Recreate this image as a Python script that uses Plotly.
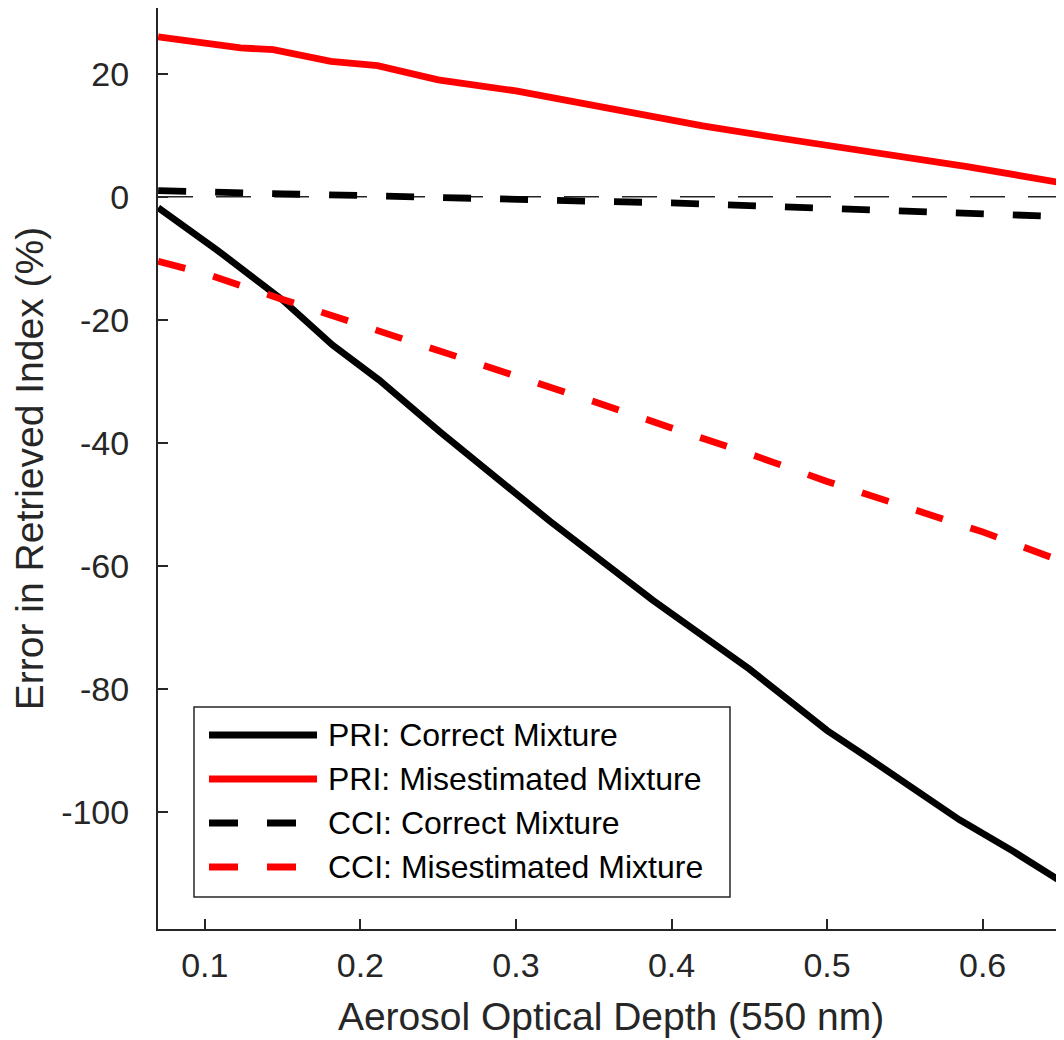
import plotly.graph_objects as go

# ---------------- data ----------------
series_names = [
    "PRI: Correct Mixture",
    "PRI: Misestimated Mixture",
    "CCI: Correct Mixture",
    "CCI: Misestimated Mixture",
]

aod_pri_correct = [0.070, 0.108, 0.150, 0.182, 0.212, 0.251, 0.322, 0.388,
                   0.450, 0.500, 0.525, 0.550, 0.585, 0.620, 0.652]
pri_correct = [-1.8, -8.7, -16.8, -24.1, -29.8, -38.2, -52.8, -65.6,
               -76.8, -86.8, -91.0, -95.2, -101.3, -106.5, -111.6]

aod_pri_mis = [0.070, 0.123, 0.144, 0.181, 0.211, 0.250, 0.300, 0.350,
               0.380, 0.420, 0.470, 0.530, 0.590, 0.652]
pri_mis = [26.0, 24.2, 23.9, 22.0, 21.3, 19.0, 17.2, 14.8,
           13.2, 11.5, 9.5, 7.2, 4.9, 2.2]

aod_cci = [0.07, 0.10, 0.15, 0.20, 0.25, 0.30, 0.35, 0.40,
           0.45, 0.50, 0.55, 0.60, 0.652]
cci_correct = [1.0, 0.75, 0.45, 0.2, -0.2, -0.5, -0.75, -1.0,
               -1.45, -1.85, -2.25, -2.7, -3.25]
cci_mis = [-10.5, -12.5, -16.7, -20.8, -24.9, -29.0, -33.3, -37.6,
           -41.8, -46.3, -50.3, -54.5, -59.4]

x_tick_vals = [0.1, 0.2, 0.3, 0.4, 0.5, 0.6]
x_tick_text = ["0.1", "0.2", "0.3", "0.4", "0.5", "0.6"]
y_tick_vals = [-100, -80, -60, -40, -20, 0, 20]
y_tick_text = ["-100", "-80", "-60", "-40", "-20", "0", "20"]

x_title = "Aerosol Optical Depth (550 nm)"
y_title = "Error in Retrieved Index (%)"

# ---------------- style ----------------
OFF = 8  # page body margin offset
W, H = 1064 - OFF, 1040 - OFF
ML, MR, MT, MB = 150, 0, 0, 111
AX = "#262626"
FONT = "Liberation Sans, Arial, sans-serif"
RED = "#ff0000"
BLACK = "#000000"
LW = 6.8
DASH = "28px,29px"

styles = [
    dict(color=BLACK, width=LW, dash="solid"),
    dict(color=RED, width=LW, dash="solid"),
    dict(color=BLACK, width=LW, dash=DASH),
    dict(color=RED, width=LW, dash=DASH),
]

xs = [aod_pri_correct, aod_pri_mis, aod_cci, aod_cci]
ys = [pri_correct, pri_mis, cci_correct, cci_mis]

fig = go.Figure()
for name, x, y, st in zip(series_names, xs, ys, styles):
    fig.add_trace(go.Scatter(x=x, y=y, mode="lines", name=name,
                             line=st, showlegend=False, hoverinfo="skip"))

pw = W - ML - MR
ph = H - MT - MB


def px(xp):
    return (xp - OFF - ML) / pw


def py(yp):
    return (H - MB - (yp - OFF)) / ph


shapes = []
# dashed zero reference line
shapes.append(dict(type="line", xref="paper", yref="y", x0=0, x1=1, y0=0, y1=0,
                   line=dict(color=AX, width=1.6, dash="35px,23px"), layer="below"))

# manual legend box
shapes.append(dict(type="rect", xref="paper", yref="paper",
                   x0=px(194), x1=px(730), y0=py(897), y1=py(707),
                   line=dict(color=AX, width=1.5), fillcolor="white", layer="above"))
row_y = [735, 779, 823, 867]
annotations = []
for name, st, ry in zip(series_names, styles, row_y):
    shapes.append(dict(type="line", xref="paper", yref="paper",
                       x0=px(209), x1=px(317), y0=py(ry), y1=py(ry),
                       line=dict(color=st["color"], width=st["width"],
                                 dash=("29px,29px" if st["dash"] != "solid" else "solid")),
                       layer="above"))
    annotations.append(dict(xref="paper", yref="paper", x=px(326), y=py(ry),
                            text=name, showarrow=False, xanchor="left", yanchor="middle",
                            font=dict(family=FONT, size=32, color=BLACK)))

fig.update_layout(
    width=W, height=H,
    margin=dict(l=ML, r=MR, t=MT, b=MB, pad=0),
    paper_bgcolor="white", plot_bgcolor="white",
    shapes=shapes, annotations=annotations,
    showlegend=False,
    font=dict(family=FONT, color=AX),
)

fig.update_xaxes(
    range=[0.0699, 0.6523], tickvals=x_tick_vals, ticktext=x_tick_text,
    ticks="inside", ticklen=10, tickwidth=1.5, tickcolor=AX,
    showline=True, linecolor=AX, linewidth=2, showgrid=False, zeroline=False,
    tickfont=dict(family=FONT, size=34, color=AX), ticklabelstandoff=5,
    title=dict(text=x_title, font=dict(family=FONT, size=39, color=AX), standoff=20),
)
fig.update_yaxes(
    range=[-119.07, 30.68], tickvals=y_tick_vals, ticktext=y_tick_text,
    ticks="inside", ticklen=10, tickwidth=1.5, tickcolor=AX,
    showline=True, linecolor=AX, linewidth=2, showgrid=False, zeroline=False,
    tickfont=dict(family=FONT, size=34, color=AX), ticklabelstandoff=20,
    title=dict(text=y_title, font=dict(family=FONT, size=39, color=AX), standoff=5),
)

fig.write_html("out.html")
